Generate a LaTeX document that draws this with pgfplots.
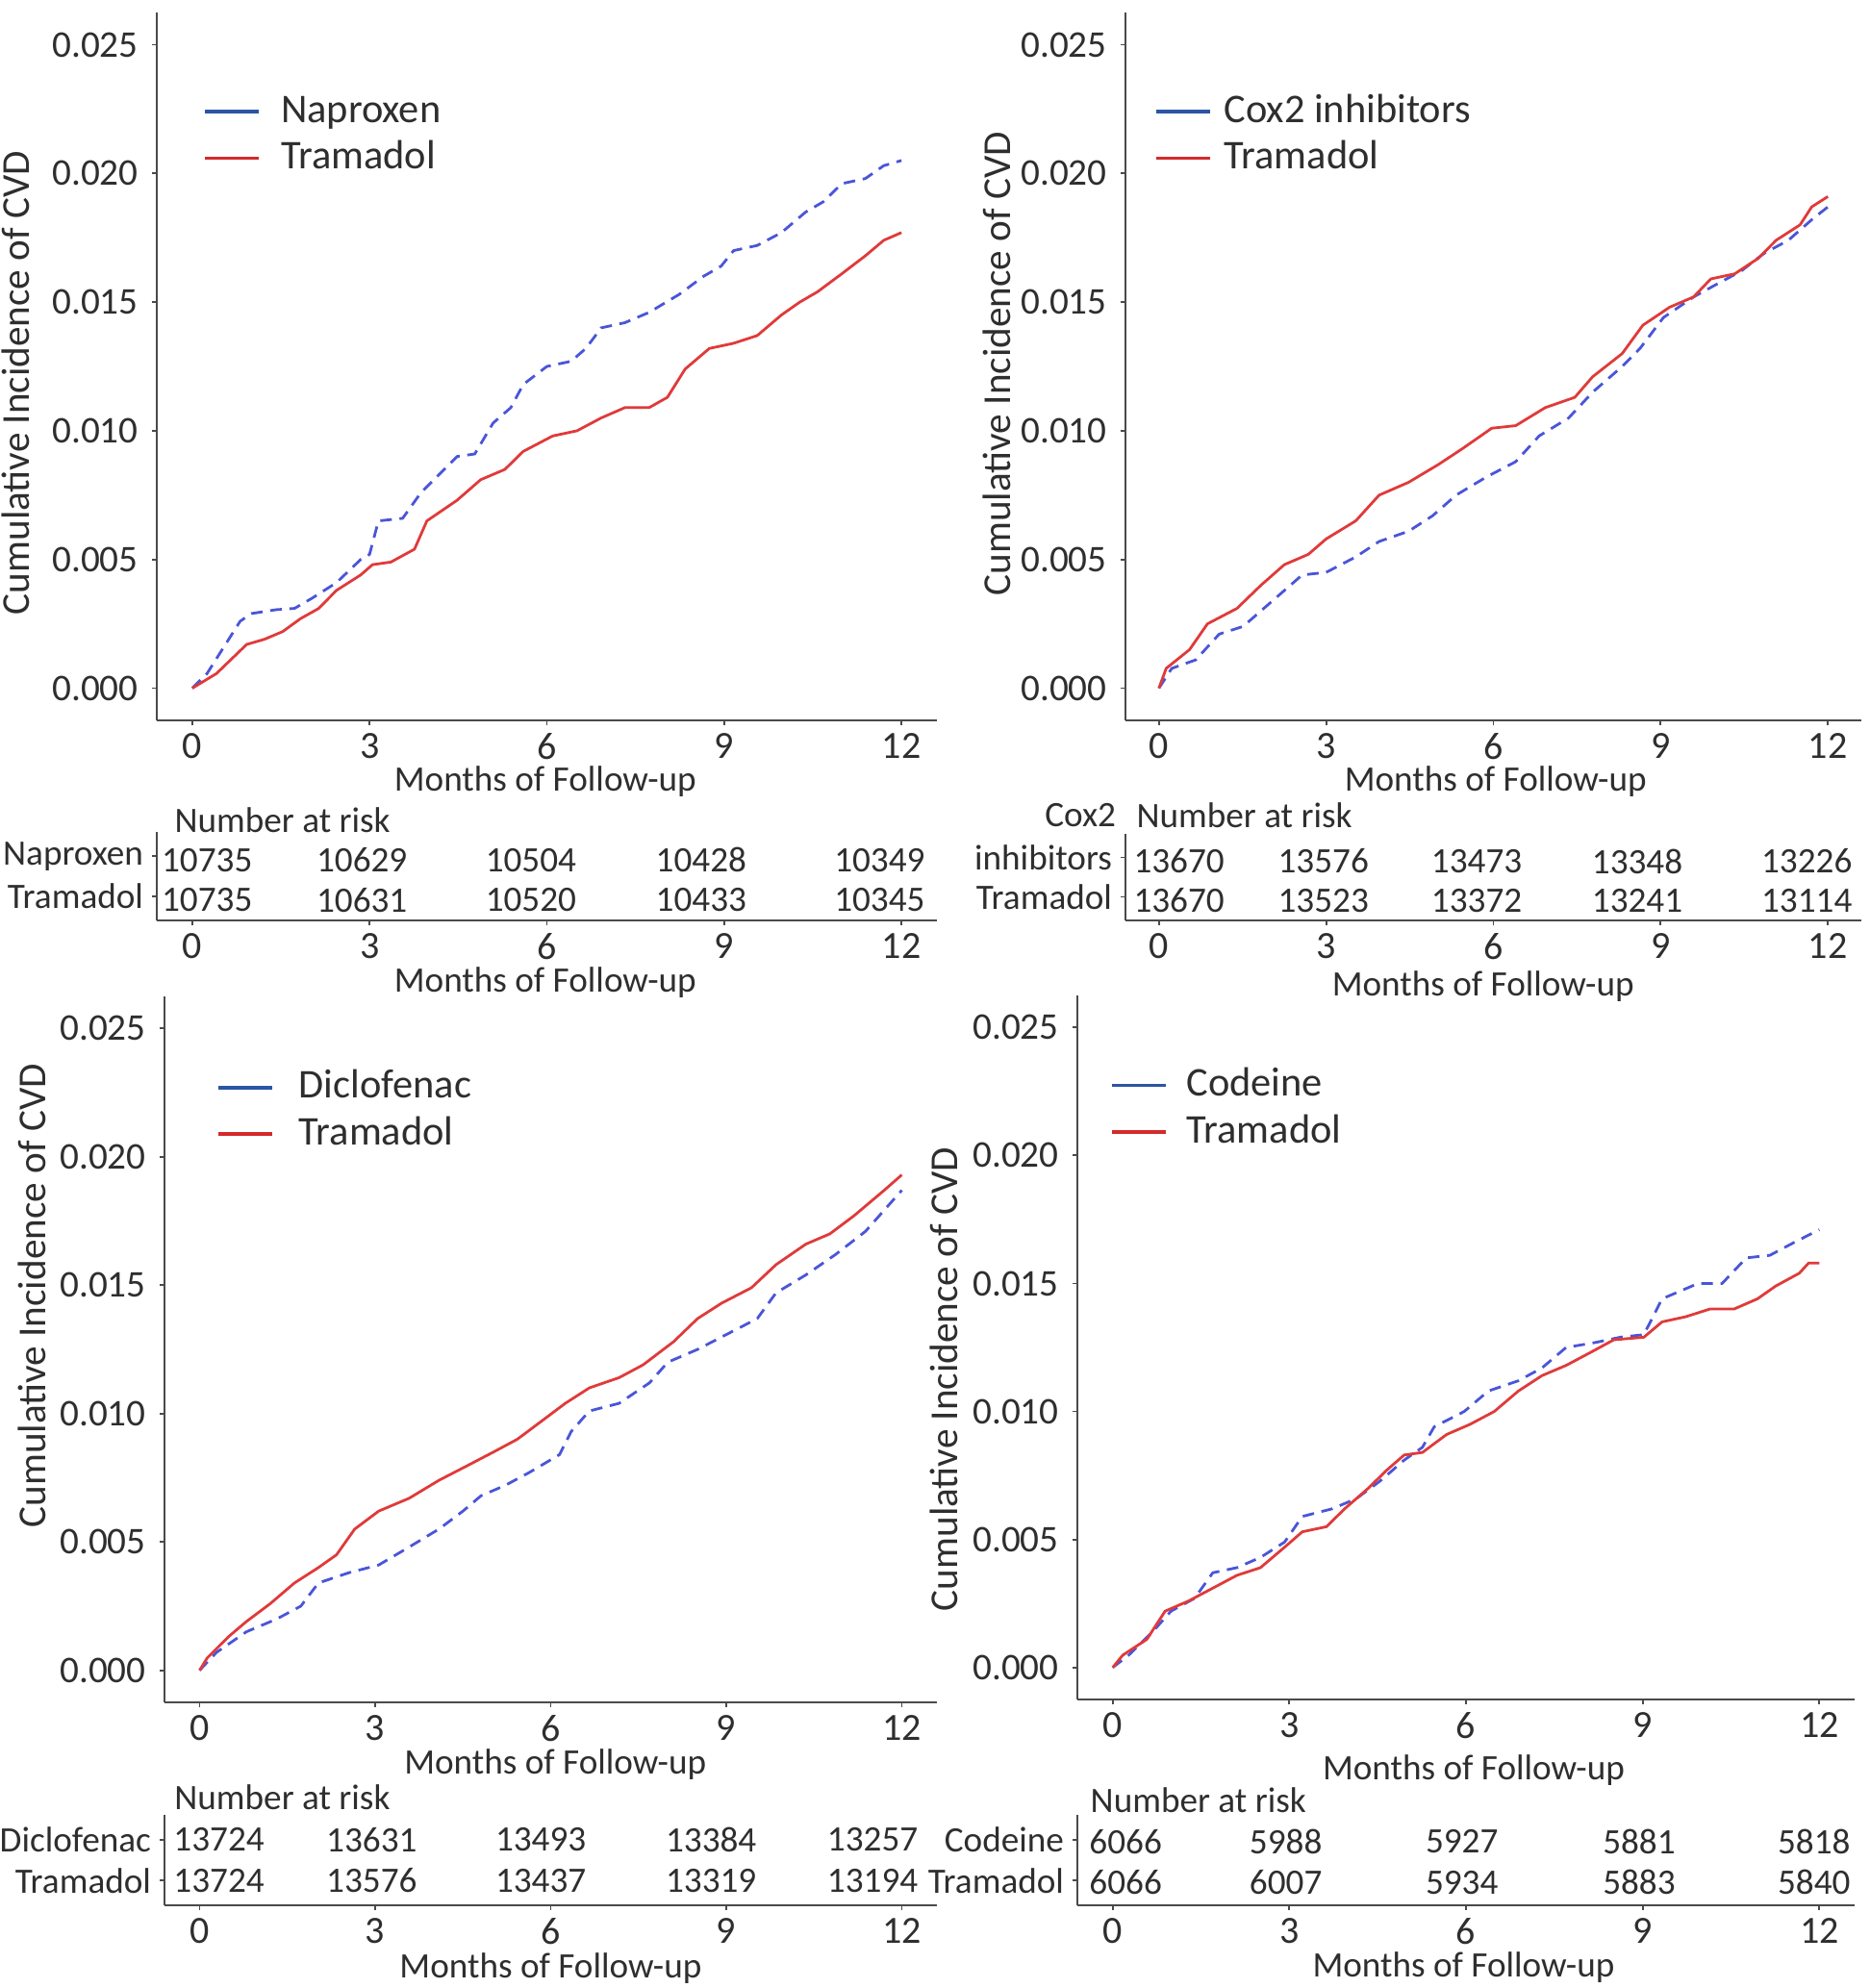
\documentclass[border=0pt]{standalone}
\usepackage{pgfplots}
\pgfplotsset{compat=1.18}
\usepackage{fontspec}
\setmainfont{Carlito}
\definecolor{txt}{HTML}{2E2E2E}
\definecolor{axgray}{HTML}{4A4A4A}
\definecolor{cred}{HTML}{E03A3A}
\definecolor{cblue}{HTML}{4A55D8}
\definecolor{lred}{HTML}{D42A2A}
\definecolor{lblue}{HTML}{2B55A5}
\newcommand{\fsA}{\fontsize{10.3}{12}\selectfont}
\newcommand{\fsL}{\fontsize{10.6}{12}\selectfont}
\newcommand{\fsY}{\fontsize{9.8}{12}\selectfont}
\newcommand{\fsB}{\fontsize{10}{12}\selectfont}
\newcommand{\fsC}{\fontsize{9.3}{11}\selectfont}
\pgfplotsset{
  /pgf/number format/assume math mode=true,
  base/.style={
    scale only axis, anchor=south west,
    xmin=-0.6, xmax=12.6,
    axis lines=left, axis line style={-, draw=axgray, line width=0.55pt},
    xtick={0,3,6,9,12},
    tick align=outside, major tick length=1.3pt,
    tick style={draw=axgray, line width=0.45pt},
    xticklabel style={font=\fsB, text=txt, yshift=1.4pt},
    xlabel={Months of Follow-up},
    xlabel style={font=\fsC, text=txt, anchor=center},
    clip=false,
  },
  km/.style={
    base,
    ymin=-0.00125, ymax=0.02625,
    ytick={0,0.005,0.01,0.015,0.02,0.025},
    scaled y ticks=false,
    yticklabel style={font=\fsY, text=txt, /pgf/number format/.cd, fixed, fixed zerofill, precision=3},
    ylabel={Cumulative Incidence of CVD},
    ylabel style={font=\fsA, text=txt, rotate=0, anchor=center},
    legend style={draw=none, fill=none, font=\fsL, text=txt, anchor=west,
      inner sep=0pt, row sep=3pt, column sep=5.2pt, nodes={inner sep=0pt, text height=7.3pt, text depth=1.8pt}},
    legend cell align=left,
    legend image code/.code={\draw[#1, line width=0.9pt, solid] (0pt,0pt) -- (14pt,0pt);},
  },
  tab/.style={
    base,
    ymin=0.4, ymax=2.6, ytick={1,2},
    yticklabel style={font=\fsC, text=txt, inner sep=2pt},
    xlabel style={font=\fsC},
  },
  redl/.style={color=cred, line width=0.7pt, forget plot},
  bluel/.style={color=cblue, line width=0.7pt, dash pattern=on 3pt off 2pt, forget plot},
  nums/.style={draw=none, mark=none, nodes near coords, point meta=explicit symbolic,
    every node near coord/.style={anchor=center, font=\fsC, text=txt, inner sep=0pt, yshift=#1}},
  nums/.default=0pt,
}
\begin{document}
\begin{tikzpicture}
\path[use as bounding box] (0,0) rectangle (486pt,-516.75pt);

% ---------------- Panel 1 -----------------
\begin{axis}[km, at={(40.75pt,-187.25pt)}, width=202.75pt, height=184pt,
  ylabel style={at={(axis description cs:-0.181,0.477)}},
  xlabel style={at={(axis description cs:0.498,-0.087)}},
  legend style={at={(axis description cs:0.059,0.827)}}]
\addlegendimage{lblue}
\addlegendimage{lred}
\addplot[bluel] coordinates {
(0,0) (0.25,0.00057) (0.81,0.0026) (1.0,0.0029) (1.42,0.00305) (1.73,0.0031) (2.03,0.0035) (2.44,0.0041) (2.85,0.0050) (3.0,0.0052) (3.15,0.0065) (3.56,0.0066) (3.87,0.0076) (4.48,0.0090) (4.78,0.0091) (5.09,0.0103) (5.39,0.0109) (5.6,0.0118) (6.0,0.0125) (6.41,0.0127) (6.66,0.0132) (6.92,0.0140) (7.32,0.0142) (7.73,0.0146) (8.24,0.0153) (8.65,0.0160) (8.95,0.0164) (9.16,0.0170) (9.56,0.0172) (9.97,0.0177) (10.38,0.0185) (10.68,0.0189) (10.99,0.0196) (11.39,0.0198) (11.7,0.0203) (12.0,0.0205)};
\addplot[redl] coordinates {
(0,0) (0.41,0.00057) (0.92,0.0017) (1.22,0.0019) (1.53,0.0022) (1.83,0.0027) (2.14,0.0031) (2.44,0.0038) (2.85,0.0044) (3.05,0.0048) (3.36,0.0049) (3.76,0.0054) (3.97,0.0065) (4.48,0.0073) (4.88,0.0081) (5.29,0.0085) (5.6,0.0092) (6.1,0.0098) (6.51,0.0100) (6.92,0.0105) (7.32,0.0109) (7.73,0.0109) (8.04,0.0113) (8.34,0.0124) (8.75,0.0132) (9.16,0.0134) (9.56,0.0137) (9.97,0.0145) (10.28,0.0150) (10.58,0.0154) (10.99,0.0161) (11.39,0.0168) (11.7,0.0174) (12.0,0.0177)};
\legend{Naproxen, Tramadol}
\end{axis}

\begin{axis}[tab, at={(40.75pt,-239.25pt)}, width=202.75pt, height=23pt,
  yticklabels={Tramadol, Naproxen},
  xlabel style={at={(axis description cs:0.498,-0.70)}}]
\addplot[nums=-1pt] table[meta=n] {
x y n
0.25 2 10735
2.87 2 10629
5.73 2 10504
8.61 2 10428
11.63 2 10349
0.25 1 10735
2.87 1 10631
5.73 1 10520
8.61 1 10433
11.63 1 10345
};
\node[font=\fsC, text=txt, anchor=west, inner sep=0pt] at (axis description cs:0.022,1.13) {Number at risk};
\end{axis}

% ---------------- Panel 2 -----------------
\begin{axis}[km, at={(292.5pt,-187.25pt)}, width=191.25pt, height=184pt,
  ylabel style={at={(axis description cs:-0.175,0.504)}},
  xlabel style={at={(axis description cs:0.503,-0.087)}},
  legend style={at={(axis description cs:0.038,0.827)}, column sep=3.3pt}]
\addlegendimage{lblue}
\addlegendimage{lred}
\addplot[bluel] coordinates {
(0,0) (0.23,0.00077) (0.66,0.0011) (1.08,0.0021) (1.51,0.0024) (2.04,0.0034) (2.57,0.0044) (3.0,0.0045) (3.53,0.0051) (3.95,0.0057) (4.48,0.0061) (4.91,0.0067) (5.33,0.0075) (5.87,0.0082) (6.4,0.0088) (6.82,0.0098) (7.35,0.0105) (7.78,0.0115) (8.31,0.0125) (8.63,0.0132) (9.05,0.0144) (9.59,0.0152) (10.01,0.0157) (10.44,0.0162) (10.86,0.0169) (11.29,0.0174) (11.71,0.0182) (12.0,0.0187)};
\addplot[redl] coordinates {
(0,0) (0.13,0.00077) (0.55,0.0015) (0.87,0.0025) (1.4,0.0031) (1.83,0.0040) (2.25,0.0048) (2.68,0.0052) (3.0,0.0058) (3.53,0.0065) (3.95,0.0075) (4.48,0.0080) (5.02,0.0087) (5.44,0.0093) (5.97,0.0101) (6.4,0.0102) (6.93,0.0109) (7.46,0.0113) (7.78,0.0121) (8.31,0.0130) (8.68,0.0141) (9.16,0.0148) (9.59,0.0152) (9.9,0.0159) (10.33,0.0161) (10.75,0.0167) (11.07,0.0174) (11.5,0.0180) (11.71,0.0187) (12.0,0.0191)};
\legend{Cox2 inhibitors, Tramadol}
\end{axis}

\begin{axis}[tab, at={(292.5pt,-239.25pt)}, width=191.25pt, height=22.5pt,
  yticklabels={Tramadol, inhibitors},
  xlabel style={at={(axis description cs:0.486,-0.76)}}]
\addplot[nums=-1pt] table[meta=n] {
x y n
0.36 2 13670
2.95 2 13576
5.70 2 13473
8.58 2 13348
11.62 2 13226
0.36 1 13670
2.95 1 13523
5.70 1 13372
8.58 1 13241
11.62 1 13114
};
\node[font=\fsC, text=txt, anchor=west, inner sep=0pt] at (axis description cs:0.014,1.22) {Number at risk};
\node[font=\fsC, text=txt, anchor=east, inner sep=0pt] at (axis description cs:-0.012,1.22) {Cox2};
\end{axis}

% ---------------- Panel 3 -----------------
\begin{axis}[km, at={(42.75pt,-442.5pt)}, width=200.75pt, height=183.5pt,
  ylabel style={at={(axis description cs:-0.172,0.576)}},
  xlabel style={at={(axis description cs:0.506,-0.088)}},
  legend style={at={(axis description cs:0.066,0.838)}, column sep=6.6pt}]
\addlegendimage{lblue}
\addlegendimage{lred}
\addplot[bluel] coordinates {
(0,0) (0.29,0.0007) (0.8,0.0015) (1.32,0.0020) (1.73,0.0025) (2.03,0.0034) (2.55,0.0038) (3.06,0.0041) (3.58,0.0048) (4.09,0.0055) (4.5,0.0062) (4.81,0.0068) (5.22,0.0072) (5.63,0.0077) (6.15,0.0084) (6.35,0.0093) (6.66,0.0101) (7.17,0.0104) (7.69,0.0112) (8.0,0.0120) (8.51,0.0125) (9.02,0.0131) (9.53,0.0137) (9.85,0.0147) (10.36,0.0154) (10.87,0.0162) (11.38,0.0171) (12.0,0.0187)};
\addplot[redl] coordinates {
(0,0) (0.13,0.00048) (0.49,0.0013) (0.8,0.0019) (1.21,0.0026) (1.62,0.0034) (2.03,0.0040) (2.34,0.0045) (2.65,0.0055) (3.06,0.0062) (3.58,0.0067) (4.09,0.0074) (4.6,0.0080) (5.02,0.0085) (5.43,0.0090) (5.84,0.0097) (6.25,0.0104) (6.66,0.0110) (7.17,0.0114) (7.58,0.0119) (8.1,0.0128) (8.51,0.0137) (8.92,0.0143) (9.43,0.0149) (9.85,0.0158) (10.36,0.0166) (10.77,0.0170) (11.18,0.0177) (11.7,0.0187) (12.0,0.0193)};
\legend{Diclofenac, Tramadol}
\end{axis}

\begin{axis}[tab, at={(42.75pt,-495.25pt)}, width=200.75pt, height=23.5pt,
  yticklabels={Tramadol, Diclofenac},
  xlabel style={at={(axis description cs:0.50,-0.70)}}]
\addplot[nums] table[meta=n] {
x y n
0.33 2 13724
2.94 2 13631
5.83 2 13493
8.74 2 13384
11.50 2 13257
0.33 1 13724
2.94 1 13576
5.83 1 13437
8.74 1 13319
11.50 1 13194
};
\node[font=\fsC, text=txt, anchor=west, inner sep=0pt] at (axis description cs:0.012,1.20) {Number at risk};
\end{axis}

% ---------------- Panel 4 -----------------
\begin{axis}[km, at={(280pt,-441.75pt)}, width=202pt, height=183pt,
  ylabel style={at={(axis description cs:-0.171,0.455)}},
  xlabel style={at={(axis description cs:0.51,-0.101)}},
  legend style={at={(axis description cs:0.041,0.839)}, column sep=5pt}]
\addlegendimage{lblue}
\addlegendimage{lred}
\addplot[bluel] coordinates {
(0,0) (0.27,0.00048) (0.68,0.0014) (0.99,0.0022) (1.39,0.0027) (1.7,0.0037) (2.11,0.0039) (2.51,0.0043) (2.92,0.0049) (3.22,0.0059) (3.73,0.0062) (4.14,0.0066) (4.55,0.0073) (4.95,0.0081) (5.26,0.0086) (5.46,0.0094) (5.97,0.0100) (6.38,0.0108) (6.89,0.0112) (7.29,0.0117) (7.7,0.0125) (8.21,0.0127) (8.62,0.0129) (9.02,0.0130) (9.33,0.0144) (9.94,0.0150) (10.35,0.0150) (10.76,0.0160) (11.16,0.0161) (11.57,0.0166) (12.0,0.0171)};
\addplot[redl] coordinates {
(0,0) (0.17,0.00048) (0.58,0.0011) (0.89,0.0022) (1.29,0.0026) (1.7,0.0031) (2.11,0.0036) (2.51,0.0039) (2.92,0.0047) (3.22,0.0053) (3.63,0.0055) (3.94,0.0062) (4.34,0.0070) (4.65,0.0077) (4.95,0.0083) (5.26,0.0084) (5.67,0.0091) (6.07,0.0095) (6.48,0.0100) (6.89,0.0108) (7.29,0.0114) (7.7,0.0118) (8.11,0.0123) (8.51,0.0128) (9.02,0.0129) (9.33,0.0135) (9.73,0.0137) (10.14,0.0140) (10.55,0.0140) (10.95,0.0144) (11.26,0.0149) (11.66,0.0154) (11.82,0.0158) (12.0,0.0158)};
\legend{Codeine, Tramadol}
\end{axis}

\begin{axis}[tab, at={(280pt,-495.25pt)}, width=202pt, height=23.5pt,
  yticklabels={Tramadol, Codeine},
  xlabel style={at={(axis description cs:0.497,-0.69)}}]
\addplot[nums=-0.5pt] table[meta=n] {
x y n
0.22 2 6066
2.94 2 5988
5.93 2 5927
8.94 2 5881
11.91 2 5818
0.22 1 6066
2.94 1 6007
5.93 1 5934
8.94 1 5883
11.91 1 5840
};
\node[font=\fsC, text=txt, anchor=west, inner sep=0pt] at (axis description cs:0.016,1.16) {Number at risk};
\end{axis}
\end{tikzpicture}
\end{document}
